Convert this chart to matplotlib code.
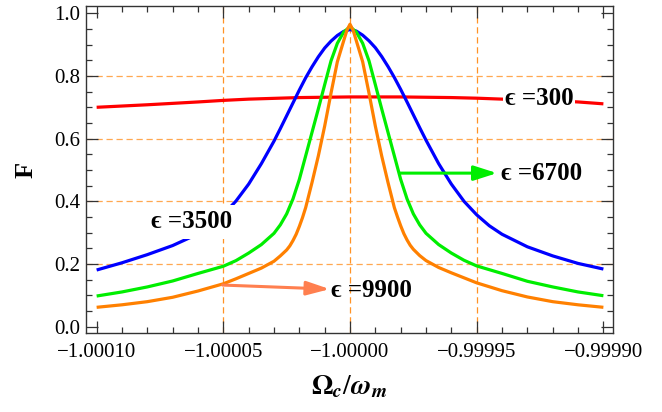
import matplotlib
matplotlib.use('Agg')
import matplotlib.pyplot as plt
from matplotlib.ticker import FixedLocator, MultipleLocator, FuncFormatter

plt.rcParams['mathtext.fontset'] = 'stix'
SERIF = ['Liberation Serif', 'DejaVu Serif']

# x offsets from -1, in units of 1e-5 (Omega_c/omega_m = -1 + d*1e-5)
red_d = [-10, -8, -6, -5, -4, -2, 0, 2, 4, 5, 6, 8, 9, 10]
red_F = [0.700, 0.708, 0.717, 0.722, 0.726, 0.731, 0.733, 0.733, 0.731, 0.729, 0.726, 0.721, 0.717, 0.711]

blue_d = [-10, -9, -8, -7, -6, -5.5, -5, -4.5, -4, -3.5, -3, -2.75, -2.5, -2.25, -2, -1.75, -1.5, -1.25, -1, -0.75, -0.5, -0.25, 0,
          0.25, 0.5, 0.75, 1, 1.25, 1.5, 1.75, 2, 2.25, 2.5, 2.75, 3, 3.5, 4, 4.5, 5, 5.5, 6, 7, 8, 9, 10]
blue_F = [0.181, 0.204, 0.230, 0.259, 0.296, 0.323, 0.358, 0.401, 0.455, 0.520, 0.592, 0.632, 0.673, 0.714, 0.755, 0.794, 0.829, 0.861, 0.889, 0.911, 0.929, 0.942, 0.948,
          0.943, 0.930, 0.912, 0.890, 0.862, 0.830, 0.795, 0.757, 0.717, 0.676, 0.635, 0.595, 0.520, 0.455, 0.400, 0.357, 0.322, 0.295, 0.255, 0.226, 0.202, 0.184]

green_d = [-10, -9, -8, -7, -6, -5, -4.5, -4, -3.5, -3, -2.75, -2.5, -2.25, -2, -1.75, -1.5, -1.25, -1, -0.75, -0.5, -0.25, 0,
           0.25, 0.5, 0.75, 1, 1.25, 1.5, 1.75, 2, 2.25, 2.5, 2.75, 3, 3.5, 4, 4.5, 5, 6, 7, 8, 9, 10]
green_F = [0.098, 0.111, 0.127, 0.146, 0.170, 0.193, 0.211, 0.235, 0.262, 0.298, 0.325, 0.360, 0.408, 0.470, 0.545, 0.620, 0.695, 0.772, 0.848, 0.904, 0.940, 0.957,
           0.940, 0.904, 0.848, 0.772, 0.695, 0.620, 0.545, 0.470, 0.408, 0.360, 0.325, 0.298, 0.262, 0.235, 0.212, 0.194, 0.170, 0.145, 0.127, 0.111, 0.099]

orange_d = [-10, -9, -8, -7, -6, -5, -4.5, -4, -3.5, -3, -2.75, -2.5, -2.375, -2.25, -2.125, -2, -1.875, -1.75, -1.5, -1.25, -1, -0.75, -0.5, -0.25, -0.125, 0,
            0.125, 0.25, 0.5, 0.75, 1, 1.25, 1.5, 1.75, 1.875, 2, 2.125, 2.25, 2.375, 2.5, 2.75, 3, 3.5, 4, 4.5, 5, 6, 7, 8, 9, 10]
orange_F = [0.062, 0.070, 0.080, 0.094, 0.114, 0.137, 0.153, 0.170, 0.187, 0.209, 0.226, 0.245, 0.258, 0.275, 0.295, 0.320, 0.348, 0.380, 0.460, 0.545, 0.640, 0.745, 0.845, 0.912, 0.945, 0.965,
            0.945, 0.912, 0.845, 0.745, 0.640, 0.545, 0.460, 0.380, 0.350, 0.322, 0.297, 0.277, 0.260, 0.247, 0.227, 0.211, 0.189, 0.172, 0.156, 0.140, 0.115, 0.095, 0.080, 0.070, 0.062]

xticks = [-1.00010, -1.00005, -1.00000, -0.99995, -0.99990]
yticks = [0.0, 0.2, 0.4, 0.6, 0.8, 1.0]
xgrid = [-1.00005, -1.00000, -0.99995]
ygrid = [0.2, 0.4, 0.6, 0.8]

def to_x(ds):
    return [-1.0 + d * 1e-5 for d in ds]

fig = plt.figure(figsize=(6.62, 4.12), dpi=100)
ax = fig.add_axes([0.1299, 0.1917, 0.7961, 0.7937])

gc = '#FF9326'
for gx in xgrid:
    ax.axvline(gx, color=gc, lw=0.9, dashes=(5, 3), zorder=0.5)
for gy in ygrid:
    ax.axhline(gy, color=gc, lw=0.9, dashes=(5, 3), alpha=0.8, zorder=0.5)

lw = 2.3
ax.plot(to_x(red_d), red_F, color='#FF0000', lw=lw, zorder=2, solid_capstyle='butt')
ax.plot(to_x(blue_d), blue_F, color='#0000FF', lw=lw, zorder=3, solid_capstyle='butt')
ax.plot(to_x(green_d), green_F, color='#00EE00', lw=lw, zorder=4, solid_capstyle='butt')
ax.plot(to_x(orange_d), orange_F, color='#FF8000', lw=lw, zorder=5, solid_capstyle='butt')

ax.set_xlim(-1.0001042, -0.9998962)
ax.set_ylim(-0.020, 1.023)

ax.xaxis.set_major_locator(FixedLocator(xticks))
ax.xaxis.set_minor_locator(MultipleLocator(1e-5))
ax.yaxis.set_major_locator(FixedLocator(yticks))
ax.yaxis.set_minor_locator(MultipleLocator(0.05))

def fx(v, pos):
    s = '%.5f' % v
    return s.replace('-', '\u2212')
def fy(v, pos):
    return '%.1f' % v
ax.xaxis.set_major_formatter(FuncFormatter(fx))
ax.yaxis.set_major_formatter(FuncFormatter(fy))

ax.tick_params(which='both', direction='in', top=True, right=True, color='#333333', width=0.9)
ax.tick_params(which='major', length=8.5)
ax.tick_params(which='minor', length=4.5)
ax.tick_params(axis='x', which='major', pad=7)
ax.tick_params(axis='y', which='major', pad=4)
for lab in ax.get_xticklabels() + ax.get_yticklabels():
    lab.set_family(SERIF)
    lab.set_fontsize(15)
for sp in ax.spines.values():
    sp.set_color('#333333')
    sp.set_linewidth(1.0)

ax.set_ylabel('F', family=SERIF, fontsize=19, fontweight='bold', labelpad=12)
ax.set_xlabel(r'$\mathbf{\Omega}_{\boldsymbol{c}}/\boldsymbol{\omega}_{\boldsymbol{m}}$', fontsize=20, labelpad=8)

lab_kw = dict(family=SERIF, fontsize=18, fontweight='bold', va='center', ha='left')
ax.text(-1.0 + 6.1e-5, 0.727, '\u03f5 =300', zorder=6,
        bbox=dict(facecolor='white', edgecolor='none', pad=1.5), **lab_kw)
ax.text(-1.0 - 7.85e-5, 0.335, '\u03f5 =3500', zorder=6,
        bbox=dict(facecolor='white', edgecolor='none', pad=4), **lab_kw)
ax.text(-1.0 + 5.95e-5, 0.49, '\u03f5 =6700', zorder=6, **lab_kw)
ax.text(-1.0 - 0.75e-5, 0.117, '\u03f5 =9900', zorder=6, **lab_kw)

ax.annotate('', xy=(-1.0 + 5.8e-5, 0.49), xytext=(-1.0 + 1.97e-5, 0.49), zorder=7,
            arrowprops=dict(arrowstyle='-|>,head_length=1.0,head_width=0.32', mutation_scale=14,
                            color='#00EE00', lw=2.2, shrinkA=0, shrinkB=0))
ax.annotate('', xy=(-1.0 - 0.8e-5, 0.12), xytext=(-1.0 - 5.03e-5, 0.133), zorder=7,
            arrowprops=dict(arrowstyle='-|>,head_length=1.0,head_width=0.3', mutation_scale=14,
                            color='#FF7F4F', lw=2.2, shrinkA=0, shrinkB=0))

fig.savefig('out.png', dpi=100)
